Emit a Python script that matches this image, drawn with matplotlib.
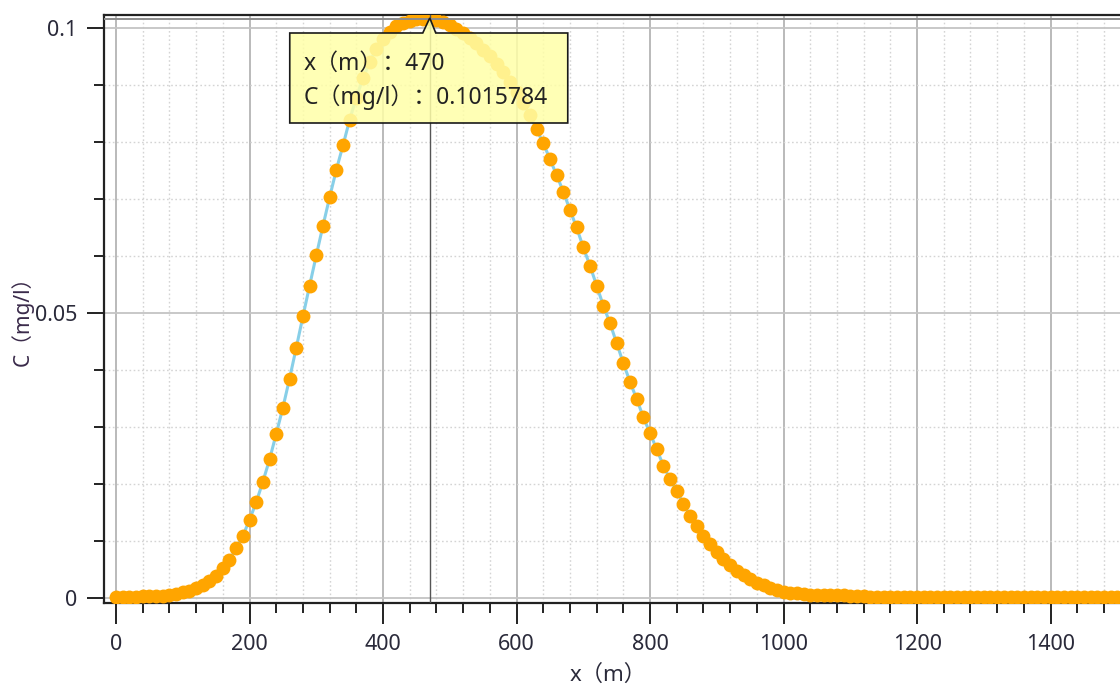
import numpy as np
import matplotlib
matplotlib.use("Agg")
import matplotlib.pyplot as plt
from matplotlib.ticker import MultipleLocator, FixedLocator
from matplotlib.patches import Polygon
from matplotlib.transforms import IdentityTransform

# Latin glyphs from Noto Sans, full-width signs fall back to the CJK family
plt.rcParams['font.family'] = ['Noto Sans', 'Noto Sans CJK SC', 'DejaVu Sans']

# distance along the river (m), one sample every 10 m
x_m = np.arange(0, 1510, 10)

# concentration C (mg/l)
conc = [
    0.0001, 0.0001, 0.0001, 0.0002, 0.0003, 0.0003, 0.0004, 0.0004, 0.0005, 0.0007,
    0.0010, 0.0013, 0.0017, 0.0023, 0.0030, 0.0039, 0.0053, 0.0067, 0.0087, 0.0109,
    0.0137, 0.0168, 0.0204, 0.0243, 0.0288, 0.0334, 0.0385, 0.0439, 0.0494, 0.0548,
    0.0601, 0.0653, 0.0703, 0.0751, 0.0794, 0.0839, 0.0878, 0.0912, 0.0940, 0.0963,
    0.0980, 0.0993, 0.1003, 0.1009, 0.1013, 0.1015, 0.1016, 0.1015784, 0.1014, 0.1010,
    0.1005, 0.0999, 0.0992, 0.0983, 0.0973, 0.0962, 0.0950, 0.0937, 0.0922, 0.0906,
    0.0888, 0.0868, 0.0847, 0.0822, 0.0798, 0.0770, 0.0742, 0.0713, 0.0681, 0.0650,
    0.0615, 0.0583, 0.0548, 0.0513, 0.0482, 0.0447, 0.0412, 0.0379, 0.0349, 0.0317,
    0.0289, 0.0261, 0.0232, 0.0208, 0.0188, 0.0165, 0.0144, 0.0127, 0.0109, 0.0095,
    0.0080, 0.0068, 0.0058, 0.0048, 0.0040, 0.0033, 0.0027, 0.0022, 0.0018, 0.0014,
    0.0011, 0.0009, 0.0008, 0.0007, 0.0006, 0.0006, 0.0005, 0.0005, 0.0005, 0.0005,
    0.0004, 0.0004, 0.0004, 0.0001, 0.0001, 0.0001, 0.0001, 0.0001, 0.0001, 0.0001,
    0.0001, 0.0001, 0.0001, 0.0001, 0.0001, 0.0001, 0.0001, 0.0001, 0.0001, 0.0001,
    0.0001, 0.0001, 0.0001, 0.0001, 0.0001, 0.0001, 0.0001, 0.0001, 0.0001, 0.0001,
    0.0001, 0.0001, 0.0001, 0.0001, 0.0001, 0.0001, 0.0001, 0.0001, 0.0001, 0.0001,
    0.0001,
]

x_ticks = [0, 200, 400, 600, 800, 1000, 1200, 1400]
y_ticks = [0, 0.05, 0.1]
y_ticklabels = ["0", "0.05", "0.1"]

# hovered point shown in the tooltip
hover_x = 470
hover_c = 0.1015784
tip_lines = ["x（m）：470", "C（mg/l）：0.1015784"]

W, H = 1120, 686
fig = plt.figure(figsize=(W / 100, H / 100), dpi=100)
ax = fig.add_axes([104 / W, (H - 603) / H, (W - 104) / W, (603 - 15) / H])

ax.set_xlim(-18, 1504)
ax.set_ylim(-0.00088, 0.10228)

# grid
ax.xaxis.set_major_locator(FixedLocator(x_ticks))
ax.xaxis.set_minor_locator(MultipleLocator(40))
ax.yaxis.set_major_locator(FixedLocator(y_ticks))
ax.yaxis.set_minor_locator(MultipleLocator(0.01))
ax.set_yticklabels(y_ticklabels)
ax.grid(which='major', axis='x', color='#b4b4b4', linewidth=1.3)
ax.grid(which='major', axis='y', color='#c4c4c4', linewidth=1.3)
ax.grid(which='minor', color='#d4d4d4', linewidth=1.0, linestyle=(0, (1.2, 1.8)))
ax.set_axisbelow(True)

for s in ['left', 'bottom', 'top']:
    ax.spines[s].set_linewidth(1.6)
    ax.spines[s].set_color('#222222')
ax.spines['right'].set_visible(False)

ax.tick_params(which='major', length=12, width=1.4, color='#222222',
               labelsize=15.5, labelcolor='#2a2a3a')
ax.tick_params(which='minor', length=7, width=1.4, color='#222222')
ax.tick_params(axis='x', which='major', length=15, pad=7)
ax.tick_params(axis='y', which='major', pad=7)

ax.set_xlabel("x（m）", fontsize=16, color='#2a2a3a')
ax.xaxis.set_label_coords((608 - 104) / (W - 104), -(675 - 603) / (603 - 15))
ax.xaxis.label.set_va('center')
ax.set_ylabel("C（mg/l）", fontsize=15, color='#3a2a4a')
ax.yaxis.set_label_coords(-(104 - 22) / (W - 104), (603 - 316) / (603 - 15))
ax.yaxis.label.set_va('center')

# series
ax.plot(x_m, conc, color='#87cfe8', linewidth=2.2, zorder=3)
ax.plot(x_m, conc, linestyle='none', marker='o', markersize=10,
        color='#ffa500', markeredgewidth=0, zorder=4)

# crosshair
ax.axvline(hover_x, color='#555555', linewidth=1.0, zorder=5)
ax.axhline(hover_c, color='#8c8c8c', linewidth=1.4, zorder=5)

# tooltip box with notch, anchored on the hovered point (display pixels)
fig.canvas.draw()
apx, apy = ax.transData.transform((hover_x, hover_c))
top = apy - 14
bot = top - 90
left = apx - 140
right = apx + 138
pts = [(left, bot), (left, top), (apx - 7, top), (apx, apy + 1),
       (apx + 6, top), (right, top), (right, bot)]
tip = Polygon(pts, closed=True, transform=IdentityTransform(),
              facecolor='#ffffa8', alpha=0.85, edgecolor='none', zorder=10)
fig.add_artist(tip)
tip_edge = Polygon(pts, closed=True, transform=IdentityTransform(),
                   facecolor='none', edgecolor='#1a1a1a', linewidth=1.2, zorder=11)
fig.add_artist(tip_edge)
fig.text((left + 14) / W, (top - 31) / H, tip_lines[0], fontsize=16.5,
         color='#222222', va='center', ha='left', zorder=12)
fig.text((left + 14) / W, (top - 64) / H, tip_lines[1], fontsize=16.5,
         color='#222222', va='center', ha='left', zorder=12)

fig.savefig("out.png", dpi=100)
